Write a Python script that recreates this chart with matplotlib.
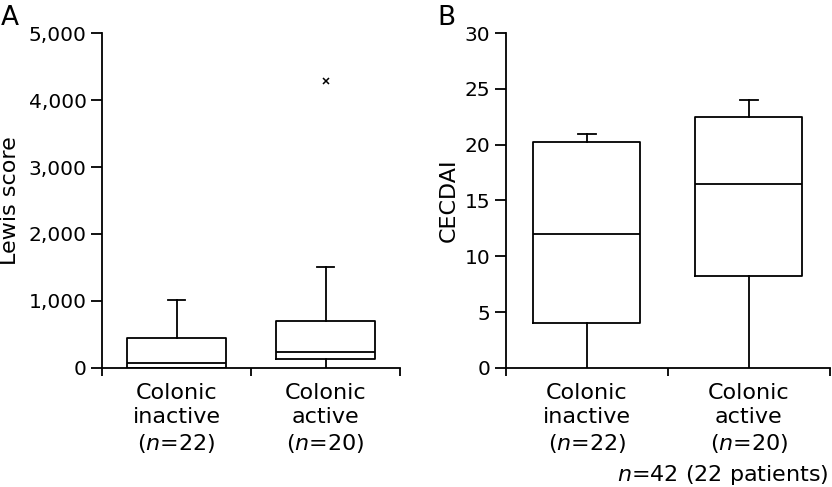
import numpy as np
import matplotlib
matplotlib.use("Agg")
import matplotlib.pyplot as plt
from matplotlib.ticker import FuncFormatter

plt.rcParams["font.family"] = "DejaVu Sans"
plt.rcParams["mathtext.fontset"] = "dejavusans"

################################################################
############################ Data ##############################
################################################################

groups = ["Colonic\ninactive\n($\\it{n}$=22)", "Colonic\nactive\n($\\it{n}$=20)"]

# Lewis score: whisker low, q1, median, q3, whisker high
lewis_low = [0, 0]
lewis_q1 = [0, 134]
lewis_med = [70, 234]
lewis_q3 = [452, 706]
lewis_high = [1015, 1512]
lewis_fliers = [[], [4280]]

# CECDAI
cecdai_low = [0, 0]
cecdai_q1 = [4.0, 8.25]
cecdai_med = [12.0, 16.5]
cecdai_q3 = [20.25, 22.5]
cecdai_high = [21.0, 24.0]

lewis_ticks = [0, 1000, 2000, 3000, 4000, 5000]
cecdai_ticks = [0, 5, 10, 15, 20, 25, 30]

################################################################
######################### Functions ############################
################################################################

def Stats(low, q1, med, q3, high, fliers=None):
    out = []
    for i in range(len(low)):
        out.append(dict(whislo=low[i], q1=q1[i], med=med[i], q3=q3[i],
                        whishi=high[i],
                        fliers=(fliers[i] if fliers else [])))
    return out

def Panel(ax, stats, ticks, ylabel):
    pos = [0.5, 1.5]
    res = ax.bxp(stats, positions=pos, widths=0.66, capwidths=0.11,
                 patch_artist=False, showfliers=True,
                 boxprops=dict(color='black', linewidth=1.3),
                 whiskerprops=dict(color='black', linewidth=1.3),
                 capprops=dict(color='black', linewidth=1.3),
                 medianprops=dict(color='black', linewidth=1.3),
                 flierprops=dict(marker='x', markersize=5,
                                 markeredgecolor='black',
                                 markeredgewidth=1.1))
    # no lower caps
    for k, cap in enumerate(res['caps']):
        if k % 2 == 0:
            cap.set_visible(False)
    ax.set_xlim(0, 2)
    ax.set_ylim(ticks[0], ticks[-1])
    ax.set_yticks(ticks)
    ax.set_xticks([0, 1, 2])
    ax.set_xticklabels([])
    ax.set_xticks(pos, minor=True)
    ax.set_xticklabels(groups, minor=True, fontsize=16, linespacing=1.25)
    ax.tick_params(axis='x', which='major', length=6, width=1.3,
                   direction='out')
    ax.tick_params(axis='x', which='minor', length=0, pad=11)
    ax.tick_params(axis='y', length=8, width=1.3, labelsize=14.5, pad=3)
    ax.spines['top'].set_visible(False)
    ax.spines['right'].set_visible(False)
    ax.spines['left'].set_linewidth(1.3)
    ax.spines['bottom'].set_linewidth(1.3)
    ax.set_ylabel(ylabel, fontsize=16)
    return res

fig = plt.figure(figsize=(8.32, 4.87), dpi=100)
axA = fig.add_axes([0.1226, 0.2444, 0.3582, 0.6878])
axB = fig.add_axes([0.6078, 0.2444, 0.3898, 0.6878])

Panel(axA, Stats(lewis_low, lewis_q1, lewis_med, lewis_q3, lewis_high,
                 lewis_fliers), lewis_ticks, 'Lewis score')
axA.yaxis.set_major_formatter(FuncFormatter(lambda v, p: f"{int(v):,}"))
axA.yaxis.set_label_coords(-0.275, 0.5)

Panel(axB, Stats(cecdai_low, cecdai_q1, cecdai_med, cecdai_q3, cecdai_high),
      cecdai_ticks, 'CECDAI')
axB.yaxis.set_label_coords(-0.145, 0.5)

fig.text(0.001, 0.99, 'A', fontsize=19, ha='left', va='top')
fig.text(0.526, 0.99, 'B', fontsize=19, ha='left', va='top')
fig.text(0.996, 0.0, '$\\it{n}$=42 (22 patients)', fontsize=16,
         ha='right', va='bottom')

plt.savefig('out.png', dpi=100)
